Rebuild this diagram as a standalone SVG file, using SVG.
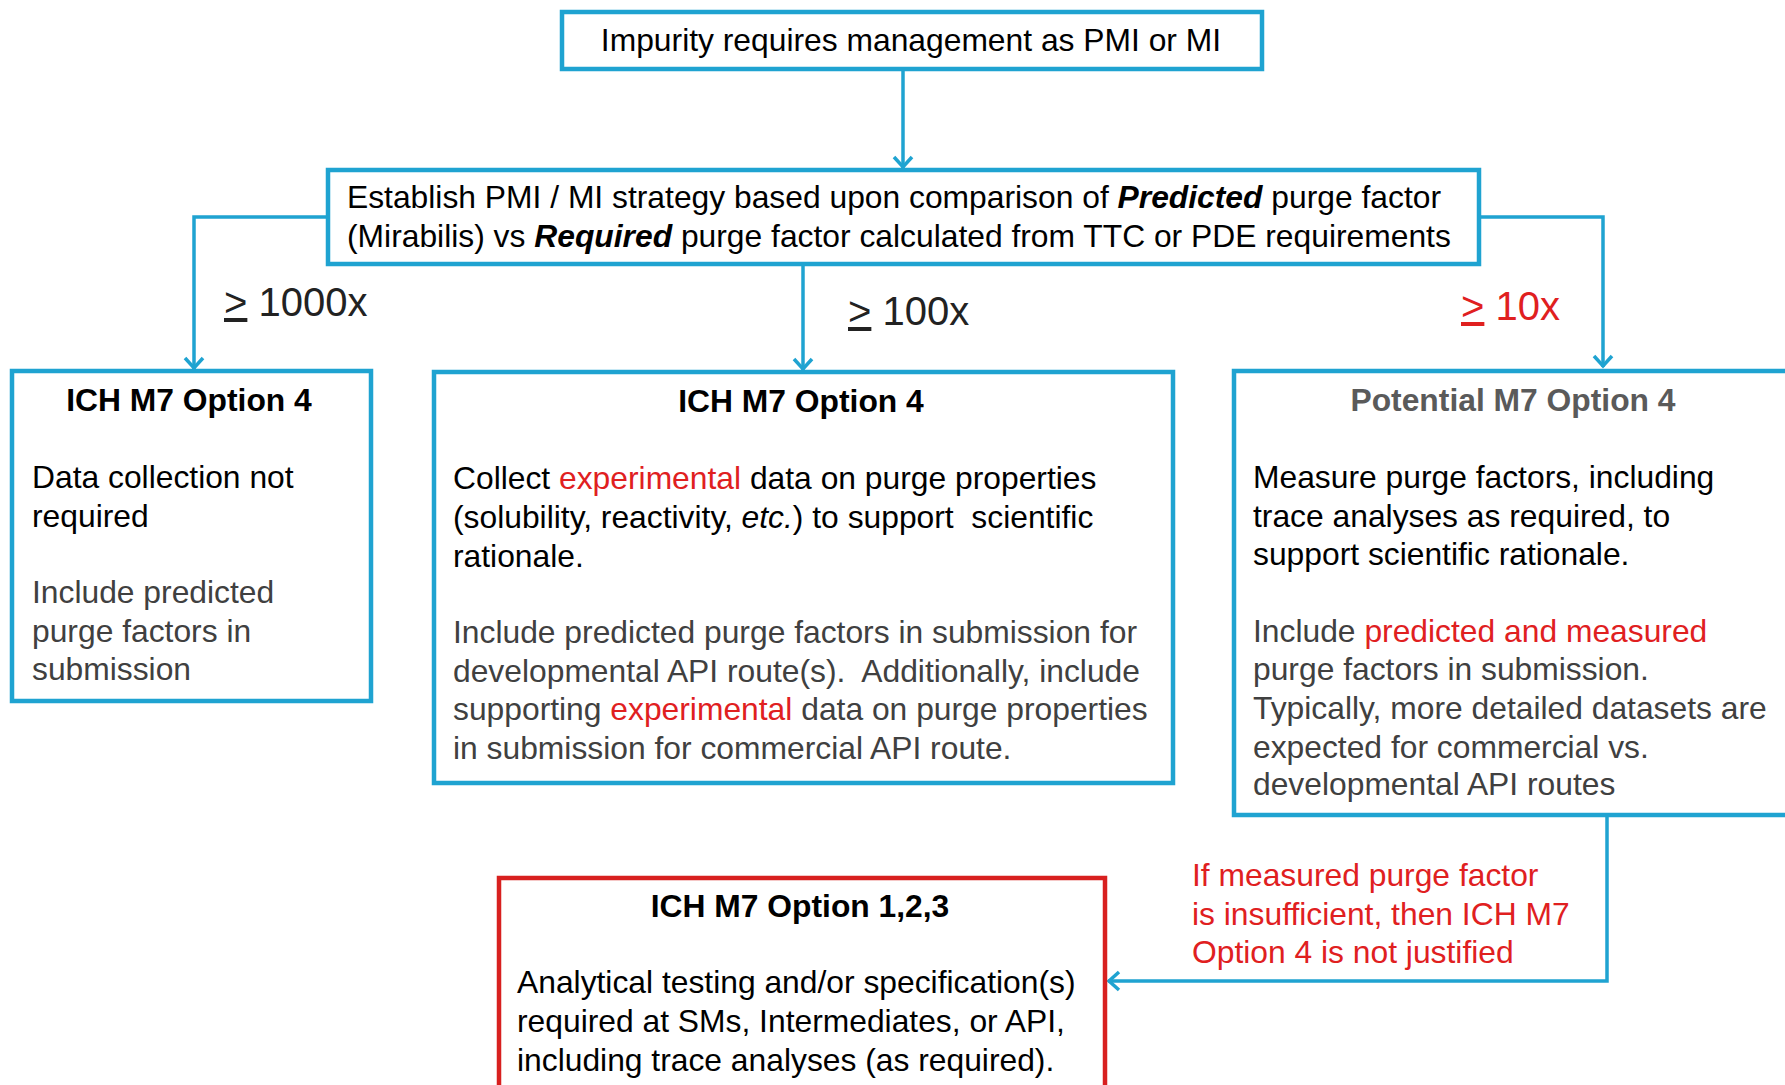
<svg xmlns="http://www.w3.org/2000/svg" width="1785" height="1085" viewBox="0 0 1785 1085">
<style>
text{font-family:"Liberation Sans",Arial,sans-serif;font-size:31.8px;fill:#000;white-space:pre}
.box{fill:#fff;stroke:#1fa3d1;stroke-width:4.5}
.rbox{fill:#fff;stroke:#d8201f;stroke-width:4.5}
.conn{fill:none;stroke:#1fa3d1;stroke-width:3.5}
.t{font-weight:bold;text-anchor:middle}
.g{fill:#404040}
.tg{fill:#5a5a5a}
.big{font-size:40px;fill:#222}
.r,.big.r{fill:#e0201f}
.u{text-decoration:underline}
</style>
<defs>
<marker id="arr" viewBox="-14 -11 16 22" markerWidth="16" markerHeight="22" refX="0" refY="0" orient="auto" markerUnits="userSpaceOnUse">
<path d="M-11,-9 L-1,0 L-11,9" fill="none" stroke="#1fa3d1" stroke-width="3.5"/>
</marker>
</defs>
<rect width="1785" height="1085" fill="#fff"/>
<g id="connectors">
<line class="conn" x1="903" y1="69" x2="903" y2="168" marker-end="url(#arr)"/>
<polyline class="conn" points="328,217 194,217 194,369" marker-end="url(#arr)"/>
<line class="conn" x1="803" y1="264" x2="803" y2="370" marker-end="url(#arr)"/>
<polyline class="conn" points="1479,217 1603,217 1603,367" marker-end="url(#arr)"/>
<polyline class="conn" points="1607,815 1607,981 1108,981" marker-end="url(#arr)"/>
</g>
<g id="n-top">
<rect class="box" x="562" y="12" width="700" height="57"/>
<text x="911" y="51" text-anchor="middle">Impurity requires management as PMI or MI</text>
</g>
<g id="n-strategy">
<rect class="box" x="328" y="170" width="1151" height="94"/>
<text x="347" y="208">Establish PMI / MI strategy based upon comparison of <tspan font-weight="bold" font-style="italic">Predicted</tspan> purge factor</text>
<text x="347" y="247">(Mirabilis) vs <tspan font-weight="bold" font-style="italic">Required</tspan> purge factor calculated from TTC or PDE requirements</text>
</g>
<g id="labels">
<text class="big" x="224" y="316"><tspan class="u">&gt;</tspan> 1000x</text>
<text class="big" x="848" y="325"><tspan class="u">&gt;</tspan> 100x</text>
<text class="big r" x="1461" y="320"><tspan class="u">&gt;</tspan> 10x</text>
</g>
<g id="n-1000x">
<rect class="box" x="12" y="371" width="359" height="330"/>
<text class="t" x="189" y="411">ICH M7 Option 4</text>
<text x="32" y="488">Data collection not</text>
<text x="32" y="527">required</text>
<text class="g" x="32" y="603">Include predicted</text>
<text class="g" x="32" y="642">purge factors in</text>
<text class="g" x="32" y="680">submission</text>
</g>
<g id="n-100x">
<rect class="box" x="434" y="372" width="739" height="411"/>
<text class="t" x="801" y="412">ICH M7 Option 4</text>
<text x="453" y="489">Collect <tspan class="r">experimental</tspan> data on purge properties</text>
<text x="453" y="528">(solubility, reactivity, <tspan font-style="italic">etc.</tspan>) to support  scientific</text>
<text x="453" y="567">rationale.</text>
<text class="g" x="453" y="643">Include predicted purge factors in submission for</text>
<text class="g" x="453" y="682">developmental API route(s).  Additionally, include</text>
<text class="g" x="453" y="720">supporting <tspan class="r">experimental</tspan> data on purge properties</text>
<text class="g" x="453" y="759">in submission for commercial API route.</text>
</g>
<g id="n-10x">
<rect class="box" x="1234" y="371" width="570" height="444"/>
<text class="t tg" x="1513" y="411">Potential M7 Option 4</text>
<text x="1253" y="488">Measure purge factors, including</text>
<text x="1253" y="527">trace analyses as required, to</text>
<text x="1253" y="565">support scientific rationale.</text>
<text class="g" x="1253" y="642">Include <tspan class="r">predicted and measured</tspan></text>
<text class="g" x="1253" y="680">purge factors in submission.</text>
<text class="g" x="1253" y="719">Typically, more detailed datasets are</text>
<text class="g" x="1253" y="758">expected for commercial vs.</text>
<text class="g" x="1253" y="795">developmental API routes</text>
</g>
<g id="n-note">
<text class="r" x="1192" y="886">If measured purge factor</text>
<text class="r" x="1192" y="925">is insufficient, then ICH M7</text>
<text class="r" x="1192" y="963">Option 4 is not justified</text>
</g>
<g id="n-option123">
<rect class="rbox" x="499" y="878" width="606" height="220"/>
<text class="t" x="800" y="917">ICH M7 Option 1,2,3</text>
<text x="517" y="993">Analytical testing and/or specification(s)</text>
<text x="517" y="1032">required at SMs, Intermediates, or API,</text>
<text x="517" y="1071">including trace analyses (as required).</text>
</g>
</svg>
